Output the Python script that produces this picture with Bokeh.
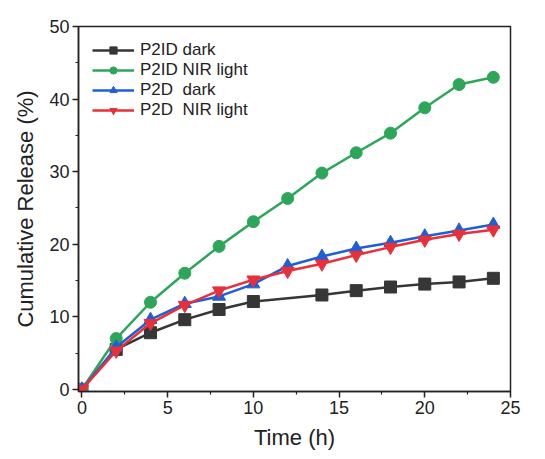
from bokeh.plotting import figure
from bokeh.models import Range1d, Legend, LegendItem, FixedTicker
from bokeh.embed import file_html
from bokeh.resources import INLINE

time_all = [0, 2, 4, 6, 8, 10, 12, 14, 16, 18, 20, 22, 24]
time_p2id_dark = [0, 2, 4, 6, 8, 10, 14, 16, 18, 20, 22, 24]
p2id_dark = [0, 5.5, 7.8, 9.6, 11.0, 12.1, 13.0, 13.6, 14.1, 14.5, 14.8, 15.3]
p2id_nir = [0, 7.0, 12.0, 16.0, 19.7, 23.1, 26.3, 29.8, 32.6, 35.3, 38.8, 42.0, 43.0]
p2d_dark = [0, 5.8, 9.6, 11.8, 12.8, 14.5, 17.0, 18.3, 19.4, 20.2, 21.1, 21.9, 22.7]
p2d_nir = [0, 5.3, 9.1, 11.6, 13.6, 15.1, 16.3, 17.3, 18.5, 19.6, 20.6, 21.4, 22.0]

labels = ["P2ID dark", "P2ID NIR light", "P2D  dark", "P2D  NIR light"]
colors = ["#363636", "#2ea65a", "#1f5fd6", "#e8303a"]
markers = ["square", "circle", "triangle", "inverted_triangle"]
xs = [time_p2id_dark, time_all, time_all, time_all]
ys = [p2id_dark, p2id_nir, p2d_dark, p2d_nir]

FONT = "Liberation Sans"

p = figure(frame_width=432, frame_height=365, output_backend="svg", toolbar_location=None,
           x_range=Range1d(-0.2, 25), y_range=Range1d(-0.3, 50),
           min_border_left=78, min_border_right=19, min_border_top=26, min_border_bottom=52)
p.grid.visible = False
p.outline_line_color = "#222222"
p.outline_line_width = 1.5

items = []
for x, y, lab, c, m in zip(xs, ys, labels, colors, markers):
    r1 = p.line(x, y, line_color=c, line_width=2.5)
    sz = 13 if m in ("triangle", "inverted_triangle") else 12
    r2 = p.scatter(x, y, marker=m, size=sz, fill_color=c, line_color=c)
    items.append(LegendItem(label=lab, renderers=[r1, r2]))

legend = Legend(items=items, location="top_left")
legend.label_text_font = FONT
legend.label_text_font_size = "17px"
legend.label_text_color = "#222222"
legend.border_line_color = None
legend.background_fill_alpha = 0
legend.glyph_width = 42
legend.glyph_height = 18
legend.label_height = 20
legend.spacing = 0
legend.padding = 4
legend.margin = 14
legend.label_standoff = 6
p.add_layout(legend)

for ax in (p.xaxis[0], p.yaxis[0]):
    ax.axis_line_width = 1.5
    ax.axis_line_color = "#222222"
    ax.major_tick_line_color = "#222222"
    ax.minor_tick_line_color = "#222222"
    ax.major_tick_line_width = 1.5
    ax.minor_tick_line_width = 1.2
    ax.major_tick_out = 6
    ax.major_tick_in = 0
    ax.minor_tick_out = 3
    ax.minor_tick_in = 0
    ax.major_label_text_font = FONT
    ax.major_label_text_font_size = "18px"
    ax.major_label_text_color = "#222222"
    ax.axis_label_text_font = FONT
    ax.axis_label_text_font_size = "22px"
    ax.axis_label_text_font_style = "normal"
    ax.axis_label_text_color = "#222222"

p.xaxis.ticker = FixedTicker(ticks=[0, 5, 10, 15, 20, 25], minor_ticks=[2.5, 7.5, 12.5, 17.5, 22.5])
p.yaxis.ticker = FixedTicker(ticks=[0, 10, 20, 30, 40, 50], minor_ticks=[5, 15, 25, 35, 45])
p.xaxis.axis_label = "Time (h)"
p.yaxis.axis_label = "Cumulative Release (%)"
p.xaxis.major_label_standoff = 3
p.yaxis.major_label_standoff = 3
p.xaxis.axis_label_standoff = 8
p.yaxis.axis_label_standoff = 8

open("out.html", "w").write(file_html(p, INLINE))
